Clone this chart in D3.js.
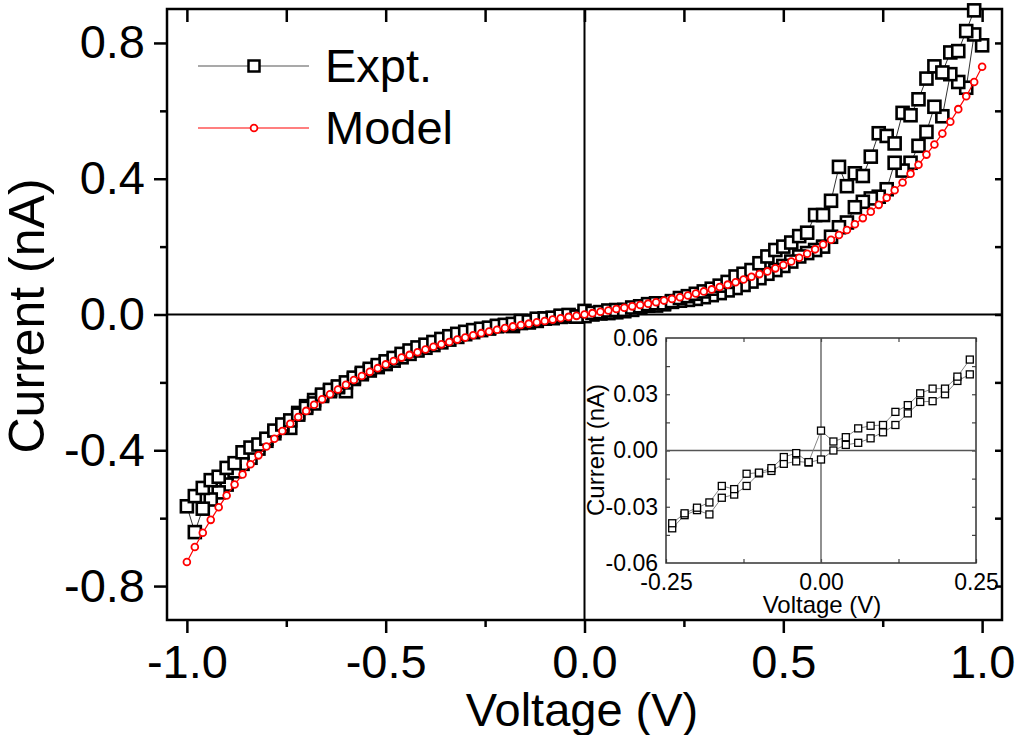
<!DOCTYPE html>
<html>
<head>
<meta charset="utf-8">
<script src="https://cdn.jsdelivr.net/npm/d3@7"></script>
<style>
    body { margin: 0; background: #fff; }
    svg text { font-family: "Liberation Sans", Arial, sans-serif; fill: #000; }
</style>
</head>
<body>
<div id="iv"></div>
<script>
// --------------------------------------------------
// I-V curve: experiment (hysteresis sweep) vs model, with a zoomed inset

// bias points (V), shared by the model and both sweeps
var voltages = [
    -1.00, -0.98, -0.96, -0.94, -0.92, -0.90, -0.88, -0.86, -0.84, -0.82,
    -0.80, -0.78, -0.76, -0.74, -0.72, -0.70, -0.68, -0.66, -0.64, -0.62,
    -0.60, -0.58, -0.56, -0.54, -0.52, -0.50, -0.48, -0.46, -0.44, -0.42,
    -0.40, -0.38, -0.36, -0.34, -0.32, -0.30, -0.28, -0.26, -0.24, -0.22,
    -0.20, -0.18, -0.16, -0.14, -0.12, -0.10, -0.08, -0.06, -0.04, -0.02,
    0.00,
    0.02, 0.04, 0.06, 0.08, 0.10, 0.12, 0.14, 0.16, 0.18, 0.20,
    0.22, 0.24, 0.26, 0.28, 0.30, 0.32, 0.34, 0.36, 0.38, 0.40,
    0.42, 0.44, 0.46, 0.48, 0.50, 0.52, 0.54, 0.56, 0.58, 0.60,
    0.62, 0.64, 0.66, 0.68, 0.70, 0.72, 0.74, 0.76, 0.78, 0.80,
    0.82, 0.84, 0.86, 0.88, 0.90, 0.92, 0.94, 0.96, 0.98, 1.00
];

// model current (nA)
var modelCurrent = [
    -0.729, -0.685, -0.643, -0.605, -0.568, -0.533, -0.501, -0.471, -0.441, -0.415,
    -0.389, -0.366, -0.343, -0.322, -0.302, -0.284, -0.266, -0.250, -0.235, -0.221,
    -0.207, -0.193, -0.181, -0.169, -0.158, -0.147, -0.137, -0.127, -0.119, -0.111,
    -0.103, -0.095, -0.088, -0.081, -0.074, -0.068, -0.061, -0.055, -0.050, -0.045,
    -0.040, -0.035, -0.031, -0.027, -0.023, -0.019, -0.015, -0.011, -0.007, -0.004,
    0.000,
    0.004, 0.008, 0.012, 0.016, 0.020, 0.024, 0.028, 0.032, 0.036, 0.041,
    0.046, 0.051, 0.056, 0.062, 0.068, 0.074, 0.081, 0.088, 0.095, 0.103,
    0.111, 0.119, 0.127, 0.136, 0.146, 0.156, 0.167, 0.179, 0.192, 0.206,
    0.220, 0.234, 0.249, 0.266, 0.284, 0.303, 0.323, 0.344, 0.366, 0.389,
    0.415, 0.441, 0.471, 0.501, 0.533, 0.568, 0.605, 0.643, 0.685, 0.730
];

// measured current (nA), sweep from +1 V down to -1 V (listed by voltage)
var sweepDownCurrent = [
    -0.565, -0.641, -0.572, -0.545, -0.524, -0.501, -0.462, -0.440, -0.422, -0.395,
    -0.372, -0.350, -0.332, -0.334, -0.290, -0.270, -0.252, -0.240, -0.226, -0.214,
    -0.226, -0.190, -0.176, -0.165, -0.155, -0.146, -0.136, -0.126, -0.116, -0.106,
    -0.098, -0.090, -0.082, -0.074, -0.066, -0.058, -0.052, -0.046, -0.0415, -0.0345,
    -0.0318, -0.0341, -0.0252, -0.0235, -0.0189, -0.0122, -0.0109, -0.0071, -0.0058, -0.0064,
    -0.0048,
    0.0000, 0.0030, 0.0041, 0.0065, 0.0097, 0.0136, 0.0198, 0.0259, 0.0263, 0.0300,
    0.0371, 0.0406, 0.043, 0.046, 0.051, 0.057, 0.063, 0.071, 0.078, 0.087,
    0.097, 0.107, 0.120, 0.131, 0.143, 0.156, 0.171, 0.181, 0.190, 0.200,
    0.229, 0.257, 0.271, 0.316, 0.332, 0.342, 0.347, 0.369, 0.447, 0.424,
    0.447, 0.497, 0.538, 0.612, 0.584, 0.708, 0.685, 0.668, 0.825, 0.793
];

// measured current (nA), sweep from -1 V back up to +1 V (no point at the ends)
var sweepUpCurrent = [
    null, -0.535, -0.511, -0.488, -0.478, -0.452, -0.438, -0.406, -0.392, -0.383,
    -0.366, -0.342, -0.324, -0.312, -0.295, -0.275, -0.262, -0.236, -0.222, -0.212,
    -0.200, -0.186, -0.172, -0.160, -0.149, -0.138, -0.128, -0.116, -0.106, -0.097,
    -0.089, -0.081, -0.072, -0.064, -0.057, -0.051, -0.046, -0.042, -0.0388, -0.0335,
    -0.0305, -0.0277, -0.0189, -0.0206, -0.0124, -0.0118, -0.0094, -0.0035, -0.0014, -0.0062,
    0.0106,
    0.0048, 0.0071, 0.0118, 0.0132, 0.0136, 0.0206, 0.0242, 0.0305, 0.0330, 0.0330,
    0.0394, 0.0485, 0.054, 0.061, 0.068, 0.076, 0.085, 0.096, 0.112, 0.120,
    0.131, 0.151, 0.171, 0.190, 0.200, 0.212, 0.231, 0.241, 0.293, 0.293,
    0.335, 0.435, 0.378, 0.416, 0.408, 0.465, 0.534, 0.526, 0.504, 0.594,
    0.587, 0.634, 0.695, 0.731, 0.713, 0.772, 0.776, 0.835, 0.896, null
];

// tick positions
var voltTicks = [-1, -0.5, 0, 0.5, 1];
var voltMinor = [-0.75, -0.25, 0.25, 0.75];
var voltTop = [-1, -0.75, -0.5, -0.25, 0, 0.25, 0.5, 0.75, 1];
var currTicks = [-0.8, -0.4, 0, 0.4, 0.8];
var currMinor = [-0.6, -0.2, 0.2, 0.6];
var currRight = [-0.8, -0.6, -0.4, -0.2, 0, 0.2, 0.4, 0.6, 0.8];
var insetVoltTicks = [-0.25, 0, 0.25];
var insetVoltMinor = [-0.25, -0.125, 0, 0.125, 0.25];
var insetCurrTicks = [-0.06, -0.03, 0, 0.03, 0.06];
var insetCurrMinor = [-0.045, -0.03, -0.015, 0, 0.015, 0.03, 0.045];

var legendNames = ["Expt.", "Model"];

// --------------------------------------------------
// data as points, in sweep order: +1 -> -1 then -1 -> +1
var exptPts = [];
for (var i = voltages.length - 1; i >= 0; i--) {
    exptPts.push({ v: voltages[i], c: sweepDownCurrent[i] });
}
voltages.forEach(function(v, i) {
    if (sweepUpCurrent[i] !== null) exptPts.push({ v: v, c: sweepUpCurrent[i] });
});
var modelPts = voltages.map(function(v, i) {
    return { v: v, c: modelCurrent[i] };
});

var margin = { left: 167, right: 14, top: 9, bottom: 115 };
var width = 1016 - margin.left - margin.right;
var height = 735 - margin.top - margin.bottom;

var svg = d3.select("#iv")
    .append("svg")
    .attr("width", 1016)
    .attr("height", 735);

var g = svg.append("g")
    .attr("transform", "translate(" + margin.left + ", " + margin.top + ")");

var x = d3.scaleLinear().domain([-1.05, 1.05]).range([0, width]);
var y = d3.scaleLinear().domain([-0.9, 0.9]).range([height, 0]);

function fmt1(d) { return d.toFixed(1); }

function styleAxis(sel, w) {
    sel.select(".domain").remove();
    sel.selectAll(".tick line").attr("stroke", "#000").attr("stroke-width", w);
    sel.selectAll(".tick text").attr("fill", "#000");
}

// bottom axis
g.append("g")
    .attr("transform", "translate(0, " + height + ")")
    .call(d3.axisBottom(x).tickValues(voltTicks).tickSize(13).tickPadding(12).tickFormat(fmt1))
    .call(styleAxis, 2.5)
    .attr("font-size", "47px");
g.append("g")
    .attr("transform", "translate(0, " + height + ")")
    .call(d3.axisBottom(x).tickValues(voltMinor).tickSize(7).tickFormat(""))
    .call(styleAxis, 2.5);

// top axis, ticks inward
g.append("g")
    .call(d3.axisTop(x).tickValues(voltTop).tickSize(-13).tickFormat(""))
    .call(styleAxis, 2.5);

// left axis
g.append("g")
    .call(d3.axisLeft(y).tickValues(currTicks).tickSize(13).tickPadding(9).tickFormat(fmt1))
    .call(styleAxis, 2.5)
    .attr("font-size", "47px");
g.append("g")
    .call(d3.axisLeft(y).tickValues(currMinor).tickSize(7).tickFormat(""))
    .call(styleAxis, 2.5);

// right axis, ticks inward
g.append("g")
    .attr("transform", "translate(" + width + ", 0)")
    .call(d3.axisRight(y).tickValues(currRight).tickSize(-7).tickFormat(""))
    .call(styleAxis, 2.5);

// frame and zero lines
g.append("rect")
    .attr("width", width).attr("height", height)
    .attr("fill", "none").attr("stroke", "#000").attr("stroke-width", 2.5);
g.append("line")
    .attr("x1", x(0)).attr("x2", x(0)).attr("y1", 0).attr("y2", height)
    .attr("stroke", "#000").attr("stroke-width", 2);
g.append("line")
    .attr("x1", 0).attr("x2", width).attr("y1", y(0)).attr("y2", y(0))
    .attr("stroke", "#000").attr("stroke-width", 2);

// experiment
var line = d3.line()
    .x(function(d) { return x(d.v); })
    .y(function(d) { return y(d.c); });

g.append("path")
    .datum(exptPts)
    .attr("d", line)
    .attr("fill", "none").attr("stroke", "#333").attr("stroke-width", 1);

var sq = 12;
g.selectAll(".expt")
    .data(exptPts)
    .enter()
    .append("rect")
    .attr("class", "expt")
    .attr("x", function(d) { return x(d.v) - sq / 2; })
    .attr("y", function(d) { return y(d.c) - sq / 2; })
    .attr("width", sq).attr("height", sq)
    .attr("fill", "#fff").attr("stroke", "#000").attr("stroke-width", 2.6);

// model
g.append("path")
    .datum(modelPts)
    .attr("d", line)
    .attr("fill", "none").attr("stroke", "#f00").attr("stroke-width", 1.2);

g.selectAll(".model")
    .data(modelPts)
    .enter()
    .append("circle")
    .attr("class", "model")
    .attr("cx", function(d) { return x(d.v); })
    .attr("cy", function(d) { return y(d.c); })
    .attr("r", 3.4)
    .attr("fill", "#fff").attr("stroke", "#f00").attr("stroke-width", 1.8);

// axis labels
svg.append("text")
    .attr("x", 582)
    .attr("y", 726)
    .attr("font-size", "47px")
    .attr("text-anchor", "middle")
    .text("Voltage (V)");

svg.append("text")
    .attr("x", -316)
    .attr("y", 44)
    .attr("font-size", "50px")
    .attr("text-anchor", "middle")
    .attr("transform", "rotate(-90)")
    .text("Current (nA)");

// legend
var legend = svg.append("g");
legend.append("line")
    .attr("x1", 198).attr("x2", 309).attr("y1", 66).attr("y2", 66)
    .attr("stroke", "#555").attr("stroke-width", 1.2);
legend.append("rect")
    .attr("x", 254 - 5.5).attr("y", 66 - 5.5).attr("width", 11).attr("height", 11)
    .attr("fill", "#fff").attr("stroke", "#000").attr("stroke-width", 2.5);
legend.append("line")
    .attr("x1", 198).attr("x2", 309).attr("y1", 128).attr("y2", 128)
    .attr("stroke", "#f00").attr("stroke-width", 1.2);
legend.append("circle")
    .attr("cx", 254).attr("cy", 128).attr("r", 3.4)
    .attr("fill", "#fff").attr("stroke", "#f00").attr("stroke-width", 1.8);
legend.selectAll(".leg-text")
    .data(legendNames)
    .enter()
    .append("text")
    .attr("class", "leg-text")
    .attr("x", 325)
    .attr("y", function(d, i) { return 82 + i * 62; })
    .attr("font-size", "47px")
    .text(function(d) { return d; });

// --------------------------------------------------
// inset: zoom on +-0.25 V
var iw = 310, ih = 225;
var ig = svg.append("g").attr("transform", "translate(666, 338)");

var ix = d3.scaleLinear().domain([-0.25, 0.25]).range([0, iw]);
var iy = d3.scaleLinear().domain([-0.06, 0.06]).range([ih, 0]);

function fmt2(d) { return d.toFixed(2); }

ig.append("g")
    .attr("transform", "translate(0, " + ih + ")")
    .call(d3.axisBottom(ix).tickValues(insetVoltTicks).tickSize(0).tickPadding(11).tickFormat(fmt2))
    .call(styleAxis, 1)
    .attr("font-size", "23px");
ig.append("g")
    .attr("transform", "translate(0, " + ih + ")")
    .call(d3.axisBottom(ix).tickValues(insetVoltMinor).tickSize(-4).tickFormat(""))
    .call(styleAxis, 1.2);
ig.append("g")
    .call(d3.axisTop(ix).tickValues(insetVoltMinor).tickSize(-4).tickFormat(""))
    .call(styleAxis, 1.2);
ig.append("g")
    .call(d3.axisLeft(iy).tickValues(insetCurrTicks).tickSize(0).tickPadding(8).tickFormat(fmt2))
    .call(styleAxis, 1)
    .attr("font-size", "23px");
ig.append("g")
    .call(d3.axisLeft(iy).tickValues(insetCurrMinor).tickSize(-4).tickFormat(""))
    .call(styleAxis, 1.2);
ig.append("g")
    .attr("transform", "translate(" + iw + ", 0)")
    .call(d3.axisRight(iy).tickValues(insetCurrMinor).tickSize(-4).tickFormat(""))
    .call(styleAxis, 1.2);
ig.selectAll(".tick line").attr("stroke", "#444");

ig.append("rect")
    .attr("width", iw).attr("height", ih)
    .attr("fill", "none").attr("stroke", "#333").attr("stroke-width", 1.5);
ig.append("line")
    .attr("x1", ix(0)).attr("x2", ix(0)).attr("y1", 0).attr("y2", ih)
    .attr("stroke", "#555").attr("stroke-width", 1.3);
ig.append("line")
    .attr("x1", 0).attr("x2", iw).attr("y1", iy(0)).attr("y2", iy(0))
    .attr("stroke", "#555").attr("stroke-width", 1.3);

function inWindow(d) { return Math.abs(d.v) <= 0.2501; }

ig.append("path")
    .datum(exptPts)
    .attr("d", d3.line()
        .defined(inWindow)
        .x(function(d) { return ix(d.v); })
        .y(function(d) { return iy(d.c); }))
    .attr("fill", "none").attr("stroke", "#777").attr("stroke-width", 0.9);

var isq = 7;
ig.selectAll(".iexpt")
    .data(exptPts.filter(inWindow))
    .enter()
    .append("rect")
    .attr("class", "iexpt")
    .attr("x", function(d) { return ix(d.v) - isq / 2; })
    .attr("y", function(d) { return iy(d.c) - isq / 2; })
    .attr("width", isq).attr("height", isq)
    .attr("fill", "#fff").attr("stroke", "#000").attr("stroke-width", 1.3);

svg.append("text")
    .attr("x", 822)
    .attr("y", 613)
    .attr("font-size", "24px")
    .attr("text-anchor", "middle")
    .text("Voltage (V)");

svg.append("text")
    .attr("x", -450)
    .attr("y", 604)
    .attr("font-size", "24px")
    .attr("text-anchor", "middle")
    .attr("transform", "rotate(-90)")
    .text("Current (nA)");
</script>
</body>
</html>
